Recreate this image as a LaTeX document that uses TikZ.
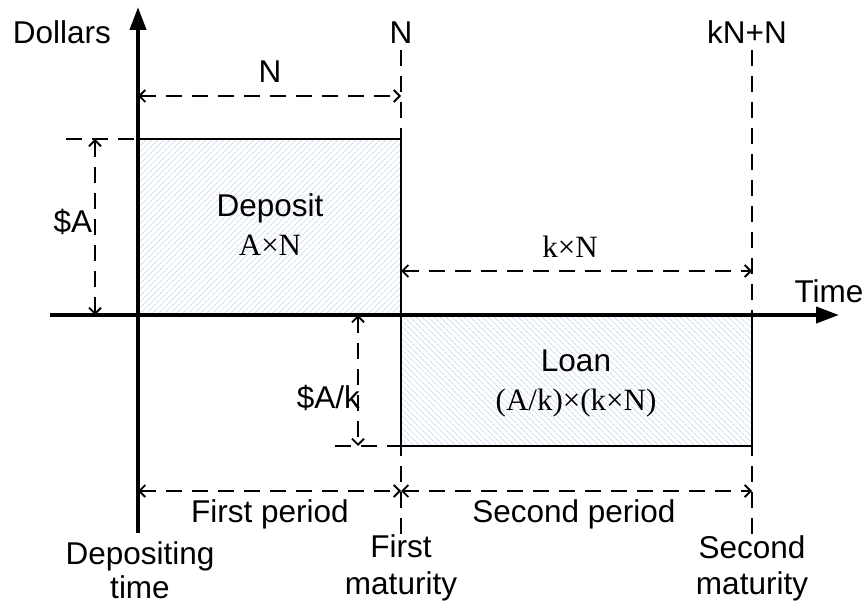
\documentclass[tikz,border=0pt]{standalone}
\usepackage{fontspec}
\setmainfont{Liberation Sans}
\newfontfamily\tms{Liberation Serif}
\usetikzlibrary{arrows.meta,patterns.meta}
\definecolor{hatch}{RGB}{175,196,226}
\begin{document}
\begin{tikzpicture}[x=1pt,y=-1pt,
  txt/.style={font=\fontsize{31.5}{36}\selectfont, inner sep=0pt},
  stxt/.style={font=\tms\fontsize{31}{35}\selectfont, inner sep=0pt},
  axis/.style={line width=4pt, -{Triangle[length=23pt,width=16pt]}},
  guide/.style={line width=1.8pt, dash pattern=on 16pt off 10pt},
  dim/.style={line width=1.8pt, dash pattern=on 16pt off 10pt, {Straight Barb[length=6pt,width=12pt,line width=1.8pt]}-{Straight Barb[length=6pt,width=12pt,line width=1.8pt]}},
  box/.style={line width=2pt, fill=white}
]
\useasboundingbox (0,0) rectangle (865,604);
% rectangles
\path[box, pattern={Lines[angle=45,distance=4pt,line width=0.5pt]}, pattern color=hatch] (138,139) rectangle (401,315);
\path[box, pattern={Lines[angle=-45,distance=4pt,line width=0.5pt]}, pattern color=hatch] (401,315) rectangle (752,446);
\draw[line width=2pt] (138,139) -- (401,139) -- (401,315);
\draw[line width=2pt] (401,315) -- (401,446) -- (752,446) -- (752,315);
% guides
\coordinate (g1t) at (401,50);
\coordinate (g1b) at (401,535);
\coordinate (g2t) at (752,50);
\coordinate (g2b) at (752,535);
\draw[guide] (g1t) -- (g1b);
\draw[guide] (g2t) -- (g2b);
\coordinate (hA1) at (66,139);
\coordinate (hA2) at (138,139);
\draw[guide] (hA1) -- (hA2);
\coordinate (hB1) at (335,446);
\coordinate (hB2) at (401,446);
\draw[guide] (hB1) -- (hB2);
% axes
\coordinate (yb) at (138,533);
\coordinate (yt) at (138,7);
\coordinate (xl) at (50,315);
\coordinate (xr) at (839,315);
\draw[axis] (yb) -- (yt);
\draw[axis] (xl) -- (xr);
% dimensions
\coordinate (dN1) at (138,96);
\coordinate (dN2) at (401,96);
\draw[dim] (dN1) -- (dN2);
\coordinate (dK1) at (401,271);
\coordinate (dK2) at (752,271);
\draw[dim] (dK1) -- (dK2);
\coordinate (dA1) at (95,139);
\coordinate (dA2) at (95,315);
\draw[dim] (dA1) -- (dA2);
\coordinate (dB1) at (358,315);
\coordinate (dB2) at (358,446);
\draw[dim] (dB1) -- (dB2);
\coordinate (dP1) at (138,491);
\coordinate (dP2) at (401,491);
\coordinate (dP3) at (752,491);
\draw[dim] (dP1) -- (dP2);
\draw[dim] (dP2) -- (dP3);
% labels
\node[txt, anchor=base] (dollars) at (62,44) {Dollars};
\node[txt, anchor=base] (Ntop) at (401,44) {N};
\node[txt, anchor=base] (kNN) at (747,44) {kN+N};
\node[txt, anchor=base] (Nlab) at (270,83) {N};
\node[txt, anchor=base] (Alab) at (73,233) {\$A};
\node[txt, anchor=base] (dep) at (270,217) {Deposit};
\node[stxt, anchor=base] (AN) at (270,255) {A×N};
\node[stxt, anchor=base] (kN) at (570,258) {k×N};
\node[txt, anchor=base] (time) at (829,302) {Time};
\node[txt, anchor=base east] (Aklab) at (360,408) {\$A/k};
\node[txt, anchor=base] (loan) at (576,371) {Loan};
\node[stxt, anchor=base] (AkkN) at (576,410) {(A/k)×(k×N)};
\node[txt, anchor=base] (fp) at (270,522) {First period};
\node[txt, anchor=base] (sp) at (574,522) {Second period};
\node[txt, anchor=base] (dt1) at (140,564) {Depositing};
\node[txt, anchor=base] (dt2) at (140,598) {time};
\node[txt, anchor=base] (fm1) at (401,557) {First};
\node[txt, anchor=base] (fm2) at (401,594) {maturity};
\node[txt, anchor=base] (sm1) at (752,558) {Second};
\node[txt, anchor=base] (sm2) at (752,594) {maturity};
\end{tikzpicture}
\end{document}
